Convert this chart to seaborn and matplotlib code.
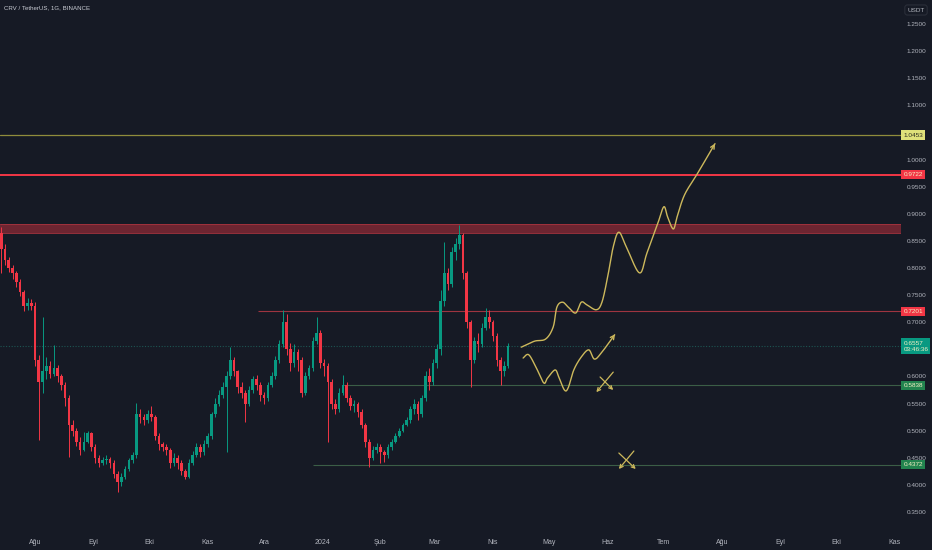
import numpy as np
import pandas as pd
import matplotlib
matplotlib.use("Agg")
import matplotlib.pyplot as plt
import seaborn as sns

# ---------------- data (2-day candles, CRV/USDT) ----------------
first_open = 0.865
closes = [0.835, 0.815, 0.800, 0.790, 0.775, 0.755, 0.730, 0.735, 0.730, 0.630,
          0.590, 0.610, 0.620, 0.605, 0.615, 0.600, 0.585, 0.560, 0.510, 0.500,
          0.480, 0.465, 0.480, 0.495, 0.470, 0.450, 0.440, 0.445, 0.448, 0.440,
          0.420, 0.405, 0.415, 0.430, 0.445, 0.455, 0.530, 0.525, 0.520, 0.530,
          0.525, 0.490, 0.475, 0.470, 0.465, 0.440, 0.450, 0.440, 0.425, 0.415,
          0.440, 0.455, 0.470, 0.460, 0.475, 0.490, 0.530, 0.550, 0.565, 0.580,
          0.600, 0.630, 0.610, 0.580, 0.570, 0.550, 0.575, 0.595, 0.585, 0.565,
          0.560, 0.585, 0.600, 0.630, 0.660, 0.700, 0.650, 0.625, 0.645, 0.630,
          0.570, 0.600, 0.615, 0.665, 0.680, 0.625, 0.620, 0.590, 0.550, 0.540,
          0.570, 0.585, 0.560, 0.545, 0.550, 0.535, 0.510, 0.480, 0.450, 0.465,
          0.470, 0.460, 0.455, 0.470, 0.480, 0.490, 0.500, 0.510, 0.520, 0.540,
          0.550, 0.530, 0.560, 0.600, 0.590, 0.625, 0.650, 0.740, 0.790, 0.770,
          0.830, 0.845, 0.860, 0.790, 0.700, 0.630, 0.665, 0.660, 0.690, 0.710,
          0.700, 0.675, 0.630, 0.610, 0.620, 0.6557]
highs = [0.876, 0.845, 0.820, 0.805, 0.795, 0.780, 0.760, 0.745, 0.742, 0.737,
         0.640, 0.710, 0.635, 0.628, 0.658, 0.622, 0.605, 0.590, 0.565, 0.520,
         0.505, 0.488, 0.497, 0.500, 0.498, 0.475, 0.455, 0.452, 0.455, 0.452,
         0.445, 0.425, 0.422, 0.435, 0.450, 0.460, 0.551, 0.540, 0.530, 0.538,
         0.545, 0.528, 0.495, 0.480, 0.475, 0.468, 0.458, 0.455, 0.445, 0.430,
         0.448, 0.462, 0.478, 0.475, 0.482, 0.496, 0.535, 0.560, 0.575, 0.590,
         0.610, 0.654, 0.635, 0.612, 0.590, 0.575, 0.582, 0.600, 0.602, 0.590,
         0.572, 0.590, 0.608, 0.638, 0.668, 0.723, 0.715, 0.662, 0.660, 0.650,
         0.635, 0.608, 0.622, 0.672, 0.710, 0.685, 0.632, 0.625, 0.595, 0.558,
         0.578, 0.603, 0.590, 0.565, 0.556, 0.552, 0.540, 0.515, 0.485, 0.472,
         0.478, 0.475, 0.465, 0.475, 0.485, 0.495, 0.505, 0.515, 0.525, 0.545,
         0.558, 0.555, 0.565, 0.610, 0.615, 0.632, 0.660, 0.760, 0.848, 0.800,
         0.838, 0.855, 0.879, 0.865, 0.795, 0.705, 0.672, 0.680, 0.698, 0.727,
         0.722, 0.705, 0.680, 0.635, 0.628, 0.662]
lows = [0.790, 0.805, 0.792, 0.780, 0.765, 0.748, 0.720, 0.722, 0.722, 0.620,
        0.483, 0.570, 0.595, 0.598, 0.600, 0.590, 0.575, 0.545, 0.452, 0.490,
        0.472, 0.455, 0.462, 0.478, 0.462, 0.440, 0.433, 0.436, 0.438, 0.432,
        0.412, 0.387, 0.398, 0.410, 0.425, 0.440, 0.450, 0.515, 0.510, 0.515,
        0.518, 0.482, 0.465, 0.462, 0.455, 0.432, 0.435, 0.430, 0.418, 0.411,
        0.413, 0.437, 0.452, 0.452, 0.455, 0.470, 0.485, 0.525, 0.545, 0.560,
        0.461, 0.595, 0.600, 0.570, 0.560, 0.516, 0.545, 0.570, 0.575, 0.555,
        0.550, 0.555, 0.580, 0.595, 0.625, 0.655, 0.640, 0.610, 0.618, 0.610,
        0.562, 0.565, 0.595, 0.610, 0.660, 0.615, 0.600, 0.479, 0.540, 0.530,
        0.535, 0.565, 0.552, 0.538, 0.535, 0.525, 0.505, 0.470, 0.433, 0.445,
        0.458, 0.440, 0.442, 0.450, 0.465, 0.478, 0.488, 0.498, 0.508, 0.515,
        0.530, 0.520, 0.525, 0.555, 0.575, 0.585, 0.615, 0.640, 0.730, 0.760,
        0.765, 0.815, 0.835, 0.780, 0.690, 0.580, 0.625, 0.645, 0.655, 0.685,
        0.690, 0.665, 0.620, 0.584, 0.600, 0.615]

# drawn levels
level_top = 1.0453
level_red = 0.9722
zone_low, zone_high = 0.8646, 0.8812
level_res = 0.7201
last_price = 0.6557
level_sup1 = 0.5838
level_sup2 = 0.4372
res_start, sup1_start, sup2_start = "2023-11-28", "2024-01-12", "2023-12-27"

# hand-drawn projection paths (date, price)
path_up_dates = ["2024-04-16", "2024-04-23", "2024-04-29", "2024-05-03", "2024-05-05", "2024-05-08",
                 "2024-05-11", "2024-05-15", "2024-05-18", "2024-05-21", "2024-05-26", "2024-05-29",
                 "2024-06-01", "2024-06-04", "2024-06-07", "2024-06-11", "2024-06-18", "2024-06-22",
                 "2024-06-28", "2024-07-01", "2024-07-03", "2024-07-06", "2024-07-08", "2024-07-12",
                 "2024-07-19", "2024-07-29"]
path_up_prices = [0.654, 0.665, 0.669, 0.691, 0.728, 0.737, 0.728, 0.717, 0.737, 0.732, 0.723, 0.737,
                  0.783, 0.839, 0.866, 0.839, 0.791, 0.828, 0.885, 0.913, 0.894, 0.872, 0.894, 0.935,
                  0.975, 1.034]
path_low_dates = ["2024-04-17", "2024-04-20", "2024-04-24", "2024-04-28", "2024-04-30", "2024-05-04",
                  "2024-05-06", "2024-05-09", "2024-05-11", "2024-05-14", "2024-05-18", "2024-05-22",
                  "2024-05-25", "2024-05-29", "2024-06-05"]
path_low_prices = [0.634, 0.640, 0.616, 0.588, 0.597, 0.612, 0.599, 0.575, 0.579, 0.612, 0.636, 0.649,
                   0.632, 0.645, 0.678]
cross_dates = [("2024-06-04", "2024-05-26"), ("2024-05-28", "2024-06-04"),
               ("2024-06-15", "2024-06-07"), ("2024-06-07", "2024-06-16")]
cross_prices = [(0.608, 0.571), (0.599, 0.575), (0.4625, 0.4293), (0.4588, 0.4293)]

month_labels = ["Ağu", "Eyl", "Eki", "Kas", "Ara", "2024", "Şub", "Mar", "Nis",
                "May", "Haz", "Tem", "Ağu", "Eyl", "Eki", "Kas"]
price_ticks = [0.35, 0.40, 0.45, 0.50, 0.55, 0.60, 0.70, 0.75, 0.80, 0.85,
               0.90, 0.95, 1.00, 1.10, 1.15, 1.20, 1.25]

# ---------------- helpers ----------------
ref = pd.Timestamp("2023-08-01")


def day(d):
    return (pd.Timestamp(d) - ref).days


def smooth(px, py, k=14):
    # catmull-rom through the hand-drawn anchor points
    P = np.column_stack([px, py]).astype(float)
    P = np.vstack([P[0], P, P[-1]])
    out = []
    t = np.linspace(0, 1, k, endpoint=False)[:, None]
    for i in range(1, len(P) - 2):
        p0, p1, p2, p3 = P[i - 1], P[i], P[i + 1], P[i + 2]
        out.append(0.5 * (2 * p1 + (-p0 + p2) * t + (2 * p0 - 5 * p1 + 4 * p2 - p3) * t ** 2
                          + (-p0 + 3 * p1 - 3 * p2 + p3) * t ** 3))
    out.append(P[-2][None])
    return np.vstack(out)


df = pd.DataFrame({"close": closes, "high": highs, "low": lows})
df["open"] = [first_open] + closes[:-1]
df["date"] = pd.date_range("2023-07-13", periods=len(df), freq="2D")
df["x"] = (df["date"] - ref).dt.days + 1.0
df["up"] = df["close"] >= df["open"]

# ---------------- style ----------------
BG = "#161a25"
TXT = "#b2b5be"
UP, DOWN = "#089981", "#f23645"
YEL = "#cdb95c"

sns.set_theme(style="dark", rc={"axes.facecolor": BG, "figure.facecolor": BG})
plt.rcParams["font.family"] = ["Liberation Sans", "DejaVu Sans"]

fig = plt.figure(figsize=(9.32, 5.5), dpi=100)
ax = fig.add_axes([0, 22 / 550, 901 / 932, 528 / 550])
ax.set_facecolor(BG)

xmin, xmax = -18.67, 461.3
ax.set_xlim(xmin, xmax)
ax.set_ylim(0.3205, 1.2943)

# ---------------- levels ----------------
ax.axhline(level_top, color="#8f8c3c", lw=0.9, zorder=2)
ax.axhline(level_red, color=DOWN, lw=1.4, zorder=2)
ax.axhspan(zone_low, zone_high, facecolor=DOWN, alpha=0.4, lw=0, zorder=1)
ax.axhline(zone_low, color="#a8343f", lw=0.6, zorder=1)
ax.axhline(zone_high, color="#a8343f", lw=0.6, zorder=1)
ax.hlines(level_res, day(res_start), xmax, color="#9e3440", lw=0.8, zorder=2)
ax.axhline(last_price, color="#1d5552", lw=0.8, ls=(0, (1, 1.5)), zorder=2)
ax.hlines(level_sup1, day(sup1_start), xmax, color="#3b5e47", lw=0.8, zorder=2)
ax.hlines(level_sup2, day(sup2_start), xmax, color="#3b5e47", lw=0.8, zorder=2)

# ---------------- candles ----------------
colors = np.where(df["up"], UP, DOWN)
ax.vlines(df["x"], df["low"], df["high"], colors=colors, lw=0.7, zorder=3)
body_low = df[["open", "close"]].min(axis=1)
body_h = (df["close"] - df["open"]).abs().clip(lower=0.002)
ax.bar(df["x"], body_h, bottom=body_low, width=1.4, color=colors, lw=0, zorder=4)

# ---------------- hand drawings ----------------
for dts, prs in [(path_up_dates, path_up_prices), (path_low_dates, path_low_prices)]:
    pts = smooth([day(d) for d in dts], prs)
    ax.plot(pts[:-3, 0], pts[:-3, 1], color=YEL, lw=1.0, zorder=6)
    ax.annotate("", xy=pts[-1], xytext=pts[-4],
                arrowprops=dict(arrowstyle="->", color=YEL, lw=1.0, mutation_scale=7), zorder=6)

for (d0, d1), (p0, p1) in zip(cross_dates, cross_prices):
    ax.annotate("", xy=(day(d1), p1), xytext=(day(d0), p0),
                arrowprops=dict(arrowstyle="->", color=YEL, lw=0.9, mutation_scale=6,
                                shrinkA=0, shrinkB=0), zorder=6)

# ---------------- axes / ticks ----------------
for s in ax.spines.values():
    s.set_visible(False)
ax.grid(False)

month_days = [day(d) for d in pd.date_range("2023-08-01", periods=len(month_labels), freq="MS")]
ax.set_xticks(month_days)
ax.set_xticklabels(month_labels)
ax.tick_params(axis="x", length=0, pad=8, labelsize=5, labelcolor=TXT)

ax.yaxis.tick_right()
ax.set_yticks(price_ticks)
ax.set_yticklabels([f"{v:.4f}" for v in price_ticks])
ax.tick_params(axis="y", length=0, pad=4, labelsize=4.6, labelcolor=TXT)

ytr = ax.get_yaxis_transform()


def price_tag(v, face, color="#f3efc4", text=None):
    ax.text(1.0025, v, text or f"{v:.4f}", transform=ytr, ha="left", va="center",
            fontsize=4.6, color=color, clip_on=False, zorder=10, linespacing=1.3,
            bbox=dict(boxstyle="square,pad=0.35", fc=face, ec="none"))


price_tag(level_top, "#dfe07a", color="#2a2a20")
price_tag(level_red, DOWN)
price_tag(level_res, DOWN)
price_tag(last_price, UP, text=f"{last_price:.4f}\n03:46:36")
price_tag(level_sup1, "#22844f")
price_tag(level_sup2, "#22844f")

fig.text(4 / 932, 1 - 8 / 550, "CRV / TetherUS, 1G, BINANCE", fontsize=4.4,
         color="#c9ccd4", ha="left", va="center")
fig.text(916 / 932, 1 - 10 / 550, "USDT", fontsize=4.6, color=TXT, ha="center", va="center",
         bbox=dict(boxstyle="round,pad=0.4", fc=BG, ec="#2a2e39", lw=0.8))

fig.savefig("out.png", dpi=100, facecolor=BG)
plt.close(fig)
